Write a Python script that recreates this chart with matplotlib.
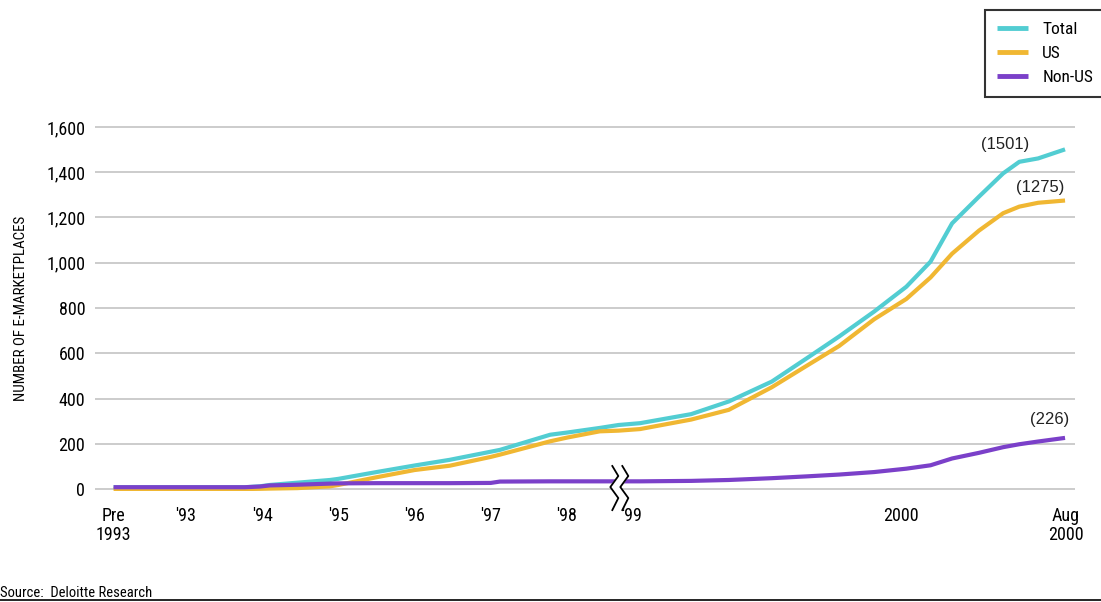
import matplotlib
matplotlib.use("Agg")
import matplotlib.pyplot as plt
import numpy as np

plt.rcParams["font.family"] = ["Roboto Condensed", "Barlow Condensed", "DejaVu Sans"]
plt.rcParams["font.stretch"] = "condensed"

# decimal-year dates; the axis is compressed before mid-1998 and stretched after
dates = [1992.05, 1993.77, 1993.97, 1994.10, 1994.46, 1994.89, 1995.0, 1995.5,
         1996.0, 1996.46, 1997.0, 1997.12, 1997.78, 1998.01, 1998.43,
         1998.95, 1999.03, 1999.22, 1999.36, 1999.52, 1999.65, 1999.77,
         1999.90, 2000.02, 2000.11, 2000.19, 2000.29, 2000.38, 2000.44,
         2000.51, 2000.61]
total = [8, 8, 12, 18, 28, 40, 45, 75, 104, 129, 165, 173, 240, 250, 270,
         283, 291, 331, 387, 475, 578, 674, 784, 894, 1005, 1174, 1292, 1395,
         1446, 1461, 1501]
us = [0, 0, 1, 2, 4, 12, 18, 52, 84, 103, 142, 152, 211, 228, 255,
      258, 265, 307, 350, 450, 545, 632, 750, 840, 935, 1040, 1142, 1219,
      1248, 1265, 1275]
non_us = [8, 8, 11, 16, 19, 24, 25, 26, 26, 26, 27, 33, 34, 34, 34,
          34, 34, 36, 40, 48, 56, 64, 75, 90, 105, 135, 160, 185,
          198, 210, 226]

tick_dates = [1992.05, 1993, 1994, 1995, 1996, 1997, 1998, 1999, 2000, 2000.613]
tick_labels = ["Pre\n1993", "'93", "'94", "'95", "'96", "'97", "'98", "'99",
               "2000", "Aug\n2000"]
y_ticks = [0, 200, 400, 600, 800, 1000, 1200, 1400, 1600]

BREAK = 1998.7


def to_pos(t):
    t = np.asarray(t, dtype=float)
    return np.where(t <= BREAK, t - 1992, 6.853 + (t - 1999) * 3.53)


colors = {"Total": "#52CDD2", "US": "#F0B732", "Non-US": "#7B40C9"}

fig = plt.figure(figsize=(11.01, 6.02), dpi=100)
ax = fig.add_axes([95 / 1101, 1 - 491.3 / 602, 980 / 1101, (491.3 - 124.7) / 602])

x = to_pos(dates)
ax.plot(x, total, color=colors["Total"], lw=3, solid_capstyle="butt", label="Total", zorder=3)
ax.plot(x, us, color=colors["US"], lw=3, solid_capstyle="butt", label="US", zorder=4)
ax.plot(x, non_us, color=colors["Non-US"], lw=3, solid_capstyle="butt", label="Non-US", zorder=5)

# value call-outs at the last point of each series
callout = dict(fontsize=12, family="Liberation Sans", stretch="normal",
               ha="center", va="center", color="#222222")
ax.text(x[-1] - 0.79, total[-1] + 20, f"({total[-1]})", **callout)
ax.text(x[-1] - 0.33, us[-1] + 58, f"({us[-1]})", **callout)
ax.text(x[-1] - 0.2, non_us[-1] + 80, f"({non_us[-1]})", **callout)

ax.set_xlim(-0.194, 12.667)
ax.set_ylim(-10, 1610)
ax.set_yticks(y_ticks)
ax.set_yticklabels([f"{v:,}" for v in y_ticks], fontsize=13)
ax.set_xticks(to_pos(tick_dates))
ax.set_xticklabels(tick_labels, fontsize=13, linespacing=1.1)
ax.tick_params(length=0)
ax.tick_params(axis="x", pad=11)
ax.tick_params(axis="y", pad=7)
ax.grid(axis="y", color="#C8C8C8", lw=1.3)
ax.set_axisbelow(True)
for s in ax.spines.values():
    s.set_visible(False)

ax.set_ylabel("NUMBER OF E-MARKETPLACES", fontsize=10.8, labelpad=13)

# axis break symbol across the baseline
bx = to_pos(BREAK)
px_x = 1 / 76.2
px_y = 200 / 45.15
zig = np.array([(-8, 23), (-2, 13), (-10, 2), (-2, -9), (-8, -21)], dtype=float)
left = np.column_stack([bx + zig[:, 0] * px_x, zig[:, 1] * px_y])
right = np.column_stack([left[:, 0] + 10 * px_x, left[:, 1]])
gap = np.vstack([left, right[::-1]])
ax.fill(gap[:, 0], gap[:, 1], color="white", zorder=6, clip_on=False)
for z in (left, right):
    ax.plot(z[:, 0], z[:, 1], color="black", lw=1.3, zorder=7, clip_on=False)

leg = fig.legend(loc="upper left", bbox_to_anchor=(985 / 1101, 1 - 10 / 602),
                 borderaxespad=0, fontsize=12.5, frameon=True, fancybox=False,
                 handlelength=1.8, handletextpad=0.8, labelspacing=0.5,
                 borderpad=0.7)
leg.get_frame().set_edgecolor("black")
leg.get_frame().set_linewidth(1.5)
for h in leg.legend_handles:
    h.set_linewidth(3.5)

fig.text(0.0, 1 - 593 / 602, "Source:  Deloitte Research", fontsize=10.5,
         va="center", ha="left")
fig.add_artist(plt.Line2D([0, 1], [0.003, 0.003], color="black", lw=1.2))

fig.savefig("out.png", dpi=100)
